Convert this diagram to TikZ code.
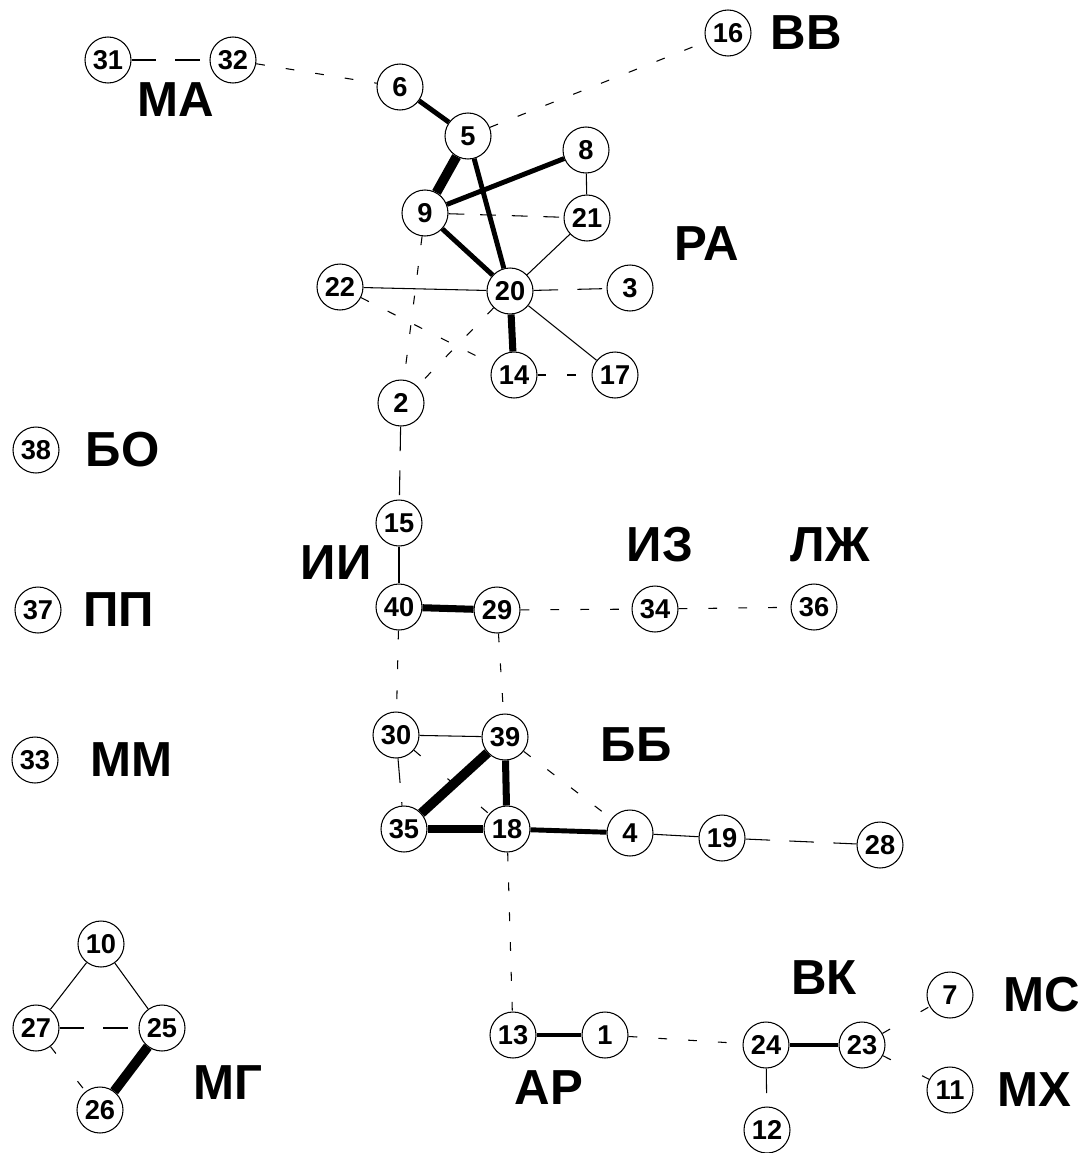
\documentclass[tikz,border=0pt]{standalone}
\usepackage{fontspec}
\setmainfont{Liberation Sans}
\usepackage{tikz}
\usetikzlibrary{positioning}
\tikzset{
  vx/.style={circle,draw,line width=0.6pt,fill=white,
             minimum size=9.2mm,inner sep=0pt,
             font=\bfseries\fontsize{15.5}{15.5}\selectfont},
  grp/.style={inner sep=0pt,font=\bfseries\fontsize{28}{28}\selectfont},
  tie/.style={line width=0.6pt},
  tieB/.style={line width=2.8pt},
  tieC/.style={line width=4pt},
  tieD/.style={line width=5.5pt},
  gap/.style={tie,dash pattern=on 14pt off 11pt},
  mid/.style={tie,dash pattern=on 9pt off 9pt},
  dsh/.style={tie,dash pattern=on 5pt off 12pt},
  sparse/.style={tie,dash pattern=on 5pt off 20pt},
}

\begin{document}
\begin{tikzpicture}[x=0.2mm,y=-0.2mm]
\useasboundingbox (0,0) rectangle (1078,1153);

% vertices
\node[vx] (n31) at (108,60) {31};
\node[vx] (n32) at (233,60) {32};
\node[vx] (n6) at (400,87) {6};
\node[vx] (n5) at (468,136) {5};
\node[vx] (n16) at (728,33) {16};
\node[vx] (n8) at (586,150) {8};
\node[vx] (n9) at (425,213) {9};
\node[vx] (n21) at (587,218) {21};
\node[vx] (n22) at (340,287) {22};
\node[vx] (n20) at (510,291) {20};
\node[vx] (n3) at (630,288) {3};
\node[vx] (n14) at (514,375) {14};
\node[vx] (n17) at (615,375) {17};
\node[vx] (n2) at (401,403) {2};
\node[vx] (n38) at (36,450) {38};
\node[vx] (n15) at (399,523) {15};
\node[vx] (n37) at (38,610) {37};
\node[vx] (n40) at (399,607) {40};
\node[vx] (n29) at (497,610) {29};
\node[vx] (n34) at (655,609) {34};
\node[vx] (n36) at (814,607) {36};
\node[vx] (n30) at (396,735) {30};
\node[vx] (n39) at (505,737) {39};
\node[vx] (n33) at (35,760) {33};
\node[vx] (n35) at (404,829) {35};
\node[vx] (n18) at (507,829) {18};
\node[vx] (n4) at (630,833) {4};
\node[vx] (n19) at (722,838) {19};
\node[vx] (n28) at (880,845) {28};
\node[vx] (n10) at (101,944) {10};
\node[vx] (n27) at (36,1028) {27};
\node[vx] (n25) at (162,1028) {25};
\node[vx] (n26) at (100,1110) {26};
\node[vx] (n13) at (513,1035) {13};
\node[vx] (n1) at (605,1035) {1};
\node[vx] (n24) at (766,1045) {24};
\node[vx] (n23) at (862,1045) {23};
\node[vx] (n12) at (767,1130) {12};
\node[vx] (n7) at (950,995) {7};
\node[vx] (n11) at (950,1090) {11};

% group names
\node[grp] (gMA) at (176,100) {МА};
\node[grp,right=3.8mm of n16] (gVV) {ВВ};
\node[grp] (gRA) at (707,244) {РА};
\node[grp,right=5.2mm of n38] (gBO) {БО};
\node[grp] (gII) at (336,563) {ИИ};
\node[grp] (gIZ) at (660,545) {ИЗ};
\node[grp] (gLZ) at (830,545) {ЛЖ};
\node[grp,right=4.3mm of n37] (gPP) {ПП};
\node[grp,right=6.4mm of n33] (gMM) {ММ};
\node[grp] (gBB) at (636,745) {ББ};
\node[grp] (gVK) at (824,978) {ВК};
\node[grp,right=6mm of n7] (gMS) {МС};
\node[grp,right=4.8mm of n11] (gMH) {МХ};
\node[grp] (gMG) at (228,1083) {МГ};
\node[grp] (gAR) at (549,1088) {АР};

% links, upper cluster
\draw[gap] (n31) -- (n32);
\draw[dsh] (n32) -- (n6);
\draw[tieB] (n6) -- (n5);
\draw[dsh] (n5) -- (n16);
\draw[tieD] (n5) -- (n9);
\draw[tieB] (n5) -- (n20);
\draw[tieB] (n9) -- (n8);
\draw[tie] (n8) -- (n21);
\draw[mid] (n9) -- (n21);
\draw[tieB] (n9) -- (n20);
\draw[dsh] (n9) -- (n2);
\draw[tie] (n22) -- (n20);
\draw[dsh] (n22) -- (n14);
\draw[dsh] (n20) -- (n2);
\draw[tie] (n21) -- (n20);
\draw[gap] (n20) -- (n3);
\draw[tieC] (n20) -- (n14);
\draw[tie] (n20) -- (n17);
\draw[dsh] (n14) -- (n17);
\draw[gap] (n2) -- (n15);
\draw[tie] (n15) -- (n40);

% links, middle cluster
\draw[tieC] (n40) -- (n29);
\draw[dsh] (n29) -- (n34);
\draw[dsh] (n34) -- (n36);
\draw[dsh] (n40) -- (n30);
\draw[dsh] (n29) -- (n39);
\draw[tie] (n30) -- (n39);
\draw[gap] (n30) -- (n35);
\draw[sparse] (n30) -- (n18);
\draw[dsh] (n39) -- (n4);
\draw[tieD] (n39) -- (n35);
\draw[tieC] (n39) -- (n18);
\draw[tieC] (n35) -- (n18);
\draw[tieB] (n18) -- (n4);
\draw[tie] (n4) -- (n19);
\draw[gap] (n19) -- (n28);
\draw[dsh] (n18) -- (n13);

% links, bottom
\draw[tieB] (n13) -- (n1);
\draw[dsh] (n1) -- (n24);
\draw[tieB] (n24) -- (n23);
\draw[gap] (n24) -- (n12);
\draw[sparse] (n23) -- (n7);
\draw[sparse] (n23) -- (n11);
\draw[tie] (n10) -- (n27);
\draw[tie] (n10) -- (n25);
\draw[gap] (n27) -- (n25);
\draw[sparse] (n27) -- (n26);
\draw[tieD] (n25) -- (n26);
\end{tikzpicture}
\end{document}
